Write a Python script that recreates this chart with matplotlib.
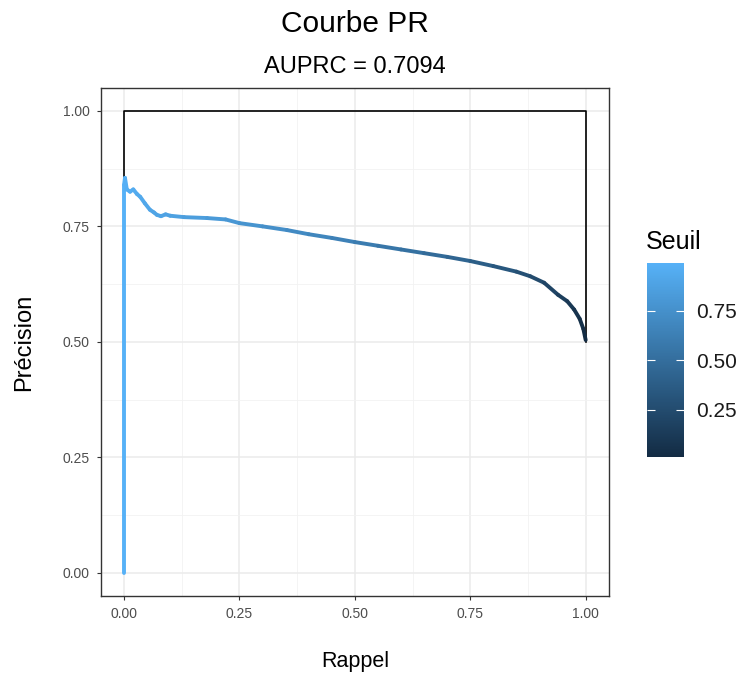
import numpy as np
import matplotlib.pyplot as plt
from matplotlib.collections import LineCollection
from matplotlib.colors import LinearSegmentedColormap, Normalize
import matplotlib.cm as cm

plt.rcParams["font.family"] = ["Liberation Sans", "DejaVu Sans"]

# PR curve
recall = [0.0, 0.0, 0.002, 0.006, 0.013, 0.02, 0.028, 0.035, 0.045, 0.056,
          0.065, 0.071, 0.08, 0.09, 0.1, 0.13, 0.18, 0.22, 0.25, 0.3,
          0.353, 0.4, 0.45, 0.5, 0.55, 0.6, 0.65, 0.7, 0.75, 0.8,
          0.85, 0.88, 0.91, 0.94, 0.96, 0.975, 0.987, 0.995, 1.0]
precision = [0.0, 0.84, 0.855, 0.83, 0.825, 0.83, 0.82, 0.814, 0.80, 0.786,
             0.78, 0.775, 0.772, 0.776, 0.773, 0.77, 0.768, 0.765, 0.757, 0.75,
             0.742, 0.733, 0.725, 0.716, 0.708, 0.70, 0.692, 0.684, 0.675, 0.664,
             0.652, 0.642, 0.628, 0.602, 0.588, 0.57, 0.55, 0.528, 0.504]
seuil = [0.99, 0.99, 0.98, 0.97, 0.96, 0.95, 0.94, 0.93, 0.92, 0.91,
         0.90, 0.895, 0.89, 0.885, 0.88, 0.86, 0.83, 0.81, 0.79, 0.76,
         0.72, 0.69, 0.66, 0.62, 0.58, 0.54, 0.50, 0.46, 0.41, 0.36,
         0.30, 0.26, 0.22, 0.17, 0.13, 0.09, 0.06, 0.03, 0.01]

# max curve (black)
max_recall = [0.0, 0.0, 1.0, 1.0]
max_precision = [0.0, 1.0, 1.0, 0.5]

ticks = [0.0, 0.25, 0.5, 0.75, 1.0]
tick_labels = ["0.00", "0.25", "0.50", "0.75", "1.00"]
cbar_ticks = [0.25, 0.5, 0.75]
cbar_labels = ["0.25", "0.50", "0.75"]

cmap = LinearSegmentedColormap.from_list("gg", ["#132B43", "#346E9D", "#56B1F7"])
norm = Normalize(vmin=min(seuil), vmax=max(seuil))

fig = plt.figure(figsize=(7.37, 6.75), dpi=100)
ax = fig.add_axes([0.137, 0.117, 0.689, 0.753])

ax.plot(max_recall, max_precision, color="black", lw=1.2, zorder=2)

pts = np.column_stack([recall, precision]).reshape(-1, 1, 2)
segs = np.concatenate([pts[:-1], pts[1:]], axis=1)
mid = (np.array(seuil[:-1]) + np.array(seuil[1:])) / 2
lc = LineCollection(segs, cmap=cmap, norm=norm, linewidths=2.8, capstyle="round", zorder=3)
lc.set_array(mid)
ax.add_collection(lc)

ax.set_xlim(-0.05, 1.05)
ax.set_ylim(-0.05, 1.05)
ax.set_xticks(ticks)
ax.set_xticklabels(tick_labels)
ax.set_yticks(ticks)
ax.set_yticklabels(tick_labels)
ax.set_xticks([0.125, 0.375, 0.625, 0.875], minor=True)
ax.set_yticks([0.125, 0.375, 0.625, 0.875], minor=True)
ax.grid(which="major", color="#EBEBEB", lw=1.1, zorder=0)
ax.grid(which="minor", color="#F2F2F2", lw=0.6, zorder=0)
ax.tick_params(which="minor", length=0)
ax.tick_params(which="major", length=3, color="#333333", labelsize=10, labelcolor="#4D4D4D", pad=5)
ax.set_axisbelow(True)
for s in ax.spines.values():
    s.set_color("#333333")
    s.set_linewidth(1.0)

fig.text(0.482, 0.0119, "Rappel", ha="center", va="baseline", fontsize=15.5)
fig.text(0.033, 0.493, "Précision", ha="center", va="center", rotation=90, fontsize=17)

fig.text(0.482, 0.9526, "Courbe PR", ha="center", va="baseline", fontsize=21.5)
fig.text(0.482, 0.8919, "AUPRC = 0.7094", ha="center", va="baseline", fontsize=17)

# colour bar
cax = fig.add_axes([0.878, 0.323, 0.050, 0.287])
cb = fig.colorbar(cm.ScalarMappable(norm=norm, cmap=cmap), cax=cax)
cb.outline.set_visible(False)
cb.set_ticks(cbar_ticks)
cb.set_ticklabels(cbar_labels)
cax.tick_params(left=True, right=True, labelleft=False, labelright=True,
                direction="in", color="white", length=6, width=0.8,
                labelsize=15, labelcolor="#1A1A1A", pad=9)
fig.text(0.876, 0.641, "Seuil", ha="left", va="center", fontsize=18)

fig.savefig("out.png", dpi=100)
